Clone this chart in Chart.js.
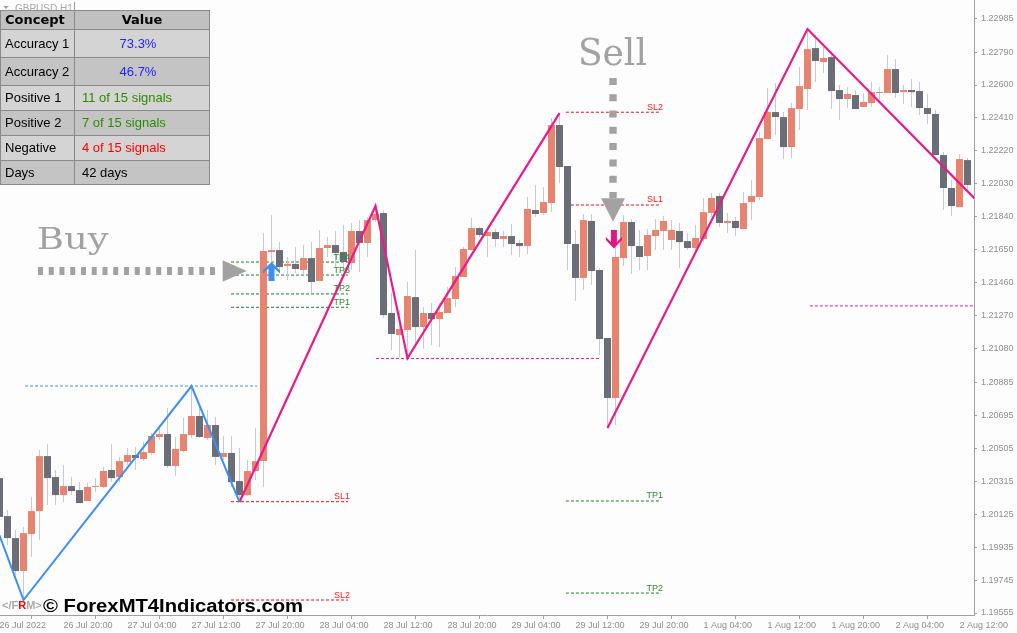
<!DOCTYPE html>
<html><head><meta charset="utf-8">
<script src="https://cdn.jsdelivr.net/npm/chart.js@4.4.0/dist/chart.umd.min.js"></script>
<style>
html,body{margin:0;padding:0;background:#fdfdfe;overflow:hidden}
#wrap{position:relative;width:1017px;height:633px}
#c{display:block}
.cell{position:absolute;box-sizing:border-box;white-space:nowrap;font-family:"Liberation Sans",Arial,sans-serif;font-size:13px;color:#000;padding-left:4px}
</style></head>
<body><div id="wrap"><canvas id="c" width="1017" height="633"></canvas><div id="tbl"></div></div>
<script>
// ---- data (GBPUSD H1), bar index 0 = 26 Jul 12:00 ----
const opens = [1.20333,1.20114,1.19987,1.19797,1.20010,1.20143,1.20460,1.20339,1.20235,1.20287,
1.20264,1.20201,1.20282,1.20282,1.20380,1.20339,1.20426,1.20466,1.20443,1.20478,
1.20570,1.20587,1.20403,1.20489,1.20581,1.20691,1.20564,1.20639,1.20455,1.20478,
1.20316,1.20235,1.20374,1.20431,1.21637,1.21648,1.21556,1.21568,1.21533,1.21602,
1.21470,1.21660,1.21677,1.21637,1.21573,1.21758,1.21689,1.21821,1.21862,1.21285,
1.21158,1.21187,1.21377,1.21204,1.21285,1.21250,1.21285,1.21366,1.21493,1.21648,
1.21775,1.21729,1.21752,1.21712,1.21729,1.21689,1.21671,1.21879,1.21862,1.21919,
1.22369,1.22133,1.21683,1.21487,1.21816,1.21533,1.21141,1.20795,1.21602,1.21810,
1.21671,1.21614,1.21729,1.21758,1.21706,1.21758,1.21700,1.21660,1.21712,1.21862,
1.21960,1.21804,1.21816,1.21769,1.21925,1.21954,1.22288,1.22444,1.22415,1.22242,
1.22461,1.22577,1.22813,1.22732,1.22761,1.22571,1.22519,1.22542,1.22473,1.22496,
1.22554,1.22554,1.22692,1.22559,1.22571,1.22565,1.22467,1.22433,1.22196,1.22006,
1.21896,1.22167];
const highs = [1.20380,1.20149,1.20034,1.20051,1.20224,1.20495,1.20530,1.20380,1.20408,1.20339,
1.20310,1.20305,1.20333,1.20397,1.20530,1.20455,1.20506,1.20512,1.20541,1.20593,
1.20639,1.20737,1.20570,1.20679,1.20864,1.20754,1.20726,1.20685,1.20576,1.20576,
1.20506,1.20437,1.20622,1.21746,1.21850,1.21694,1.21608,1.21666,1.21677,1.21694,
1.21764,1.21723,1.21758,1.21792,1.21804,1.21821,1.21839,1.21902,1.21879,1.21400,
1.21302,1.21464,1.21648,1.21320,1.21343,1.21343,1.21435,1.21550,1.21666,1.21833,
1.21781,1.21781,1.21769,1.21758,1.21798,1.21706,1.21954,1.22023,1.22012,1.22410,
1.22438,1.22133,1.21764,1.21856,1.21856,1.21544,1.21141,1.21666,1.21850,1.21827,
1.21764,1.21769,1.21827,1.21844,1.21821,1.21804,1.21746,1.21792,1.21948,1.21977,
1.21977,1.21862,1.21839,1.21983,1.22052,1.22329,1.22583,1.22611,1.22444,1.22496,
1.22704,1.22923,1.22888,1.22819,1.22784,1.22600,1.22588,1.22571,1.22554,1.22617,
1.22588,1.22773,1.22750,1.22600,1.22634,1.22617,1.22548,1.22456,1.22213,1.22052,
1.22202,1.22179];
const lows = [1.20062,1.19947,1.19774,1.19630,1.19878,1.19976,1.20178,1.20178,1.20195,1.20235,
1.20189,1.20201,1.20253,1.20276,1.20310,1.20310,1.20408,1.20380,1.20431,1.20466,
1.20553,1.20391,1.20345,1.20483,1.20564,1.20564,1.20553,1.20408,1.20437,1.20282,
1.20195,1.20230,1.20322,1.20282,1.21475,1.21521,1.21475,1.21516,1.21504,1.21400,
1.21470,1.21608,1.21550,1.21521,1.21533,1.21521,1.21608,1.21810,1.21256,1.21072,
1.21031,1.21025,1.21112,1.21077,1.21100,1.21089,1.21285,1.21320,1.21493,1.21648,
1.21723,1.21608,1.21666,1.21666,1.21619,1.21608,1.21625,1.21839,1.21850,1.21867,
1.22035,1.21533,1.21354,1.21418,1.21446,1.21043,1.20622,1.20639,1.21556,1.21510,
1.21533,1.21533,1.21648,1.21648,1.21648,1.21544,1.21648,1.21648,1.21694,1.21839,
1.21781,1.21746,1.21729,1.21769,1.21821,1.21937,1.22288,1.22312,1.22173,1.22179,
1.22340,1.22456,1.22617,1.22669,1.22461,1.22398,1.22467,1.22461,1.22473,1.22473,
1.22502,1.22554,1.22525,1.22490,1.22473,1.22427,1.22375,1.22196,1.21879,1.21844,
1.21896,1.21994];
const closes = [1.20109,1.19987,1.19797,1.20016,1.20143,1.20460,1.20333,1.20235,1.20287,1.20258,
1.20189,1.20282,1.20287,1.20374,1.20333,1.20431,1.20466,1.20449,1.20483,1.20576,
1.20587,1.20403,1.20501,1.20587,1.20691,1.20570,1.20639,1.20455,1.20478,1.20310,
1.20235,1.20374,1.20431,1.21643,1.21648,1.21550,1.21568,1.21539,1.21602,1.21464,
1.21660,1.21677,1.21631,1.21579,1.21758,1.21689,1.21821,1.21856,1.21273,1.21164,
1.21193,1.21383,1.21204,1.21285,1.21250,1.21291,1.21371,1.21498,1.21654,1.21775,
1.21735,1.21752,1.21712,1.21729,1.21683,1.21671,1.21885,1.21856,1.21925,1.22369,
1.22127,1.21683,1.21487,1.21821,1.21527,1.21135,1.20795,1.21608,1.21810,1.21671,
1.21608,1.21735,1.21764,1.21816,1.21764,1.21694,1.21660,1.21718,1.21867,1.21948,
1.21804,1.21816,1.21775,1.21919,1.21960,1.22294,1.22444,1.22415,1.22242,1.22467,
1.22594,1.22807,1.22738,1.22756,1.22565,1.22519,1.22548,1.22461,1.22502,1.22559,
1.22559,1.22692,1.22554,1.22571,1.22559,1.22467,1.22433,1.22196,1.22006,1.21902,
1.22173,1.22023];

const xTickIdx = [0,8,16,24,32,40,48,56,64,72,80,88,96,104,112,120];
const xTickLabels = ['26 Jul 2022','26 Jul 20:00','27 Jul 04:00','27 Jul 12:00','27 Jul 20:00','28 Jul 04:00','28 Jul 12:00','28 Jul 20:00','29 Jul 04:00','29 Jul 12:00','29 Jul 20:00','1 Aug 04:00','1 Aug 12:00','1 Aug 20:00','2 Aug 04:00','2 Aug 12:00'];
const yTicks = [1.22985,1.22790,1.22600,1.22410,1.22220,1.22030,1.21840,1.21650,1.21460,1.21270,1.21080,1.20885,1.20695,1.20505,1.20315,1.20125,1.19935,1.19745,1.19555];

// zigzag legs
const zzBlueIdx = [0,3,24,30];
const zzBluePrice = [1.20003,1.19630,1.20864,1.20195];
const zzPinkAIdx = [30,47,51,70];
const zzPinkAPrice = [1.20195,1.21902,1.21025,1.22438];
const zzPinkBIdx = [76,101,124];
const zzPinkBPrice = [1.20622,1.22923,1.21847];

// horizontal levels
const levelLabels = ['','SL1','SL2','TP1','TP2','TP3','TP4','','SL2','SL1','TP1','TP2',''];
const levelKinds  = ['blue','sl','sl','tp','tp','tp','tp','pink','sl','sl','tp','tp','pink'];
const levelPrices = [1.20864,1.20197,1.19630,1.21318,1.21395,1.21504,1.21579,1.21023,1.22443,1.21908,1.20201,1.19670,1.21326];
const levelFrom   = [3.19,28.94,28.94,28.94,28.94,28.94,28.94,47.06,70.8,70.8,70.8,70.8,101.3];
const levelTo     = [32.2,43.56,43.56,43.56,43.56,43.56,43.56,75.06,82.7,82.7,82.7,82.7,122.5];

// signal arrows
const buySignalIdx = 34, buySignalPrice = 1.21579;
const sellSignalIdx = 76.8, sellSignalPrice = 1.21764;

// stats table
const tableConcepts = ['Accuracy 1','Accuracy 2','Positive 1','Positive 2','Negative','Days'];
const tableValues = ['73.3%','46.7%','11 of 15 signals','7 of 15 signals','4 of 15 signals','42 days'];

// ---- styles ----
const C_BULL='#e8836f', C_BEAR='#6b6e77', C_WICK='#c9c9d3';
const kindColor = {blue:'#3d8ff0', pink:'#ee1690', sl:'#e81010', tp:'#1e7e1e'};

// ---- table ----
(function(){
  const t = document.getElementById('tbl');
  const tops=[10,29,57,85,110,135,160,184];
  const colX=[0,74,210];
  const add=(x,y,w,h,bg,txt,st)=>{const d=document.createElement('div');d.className='cell';
    d.style.cssText+=`left:${x}px;top:${y}px;width:${w}px;height:${h}px;line-height:${h}px;background:${bg};`+(st||'');
    d.textContent=txt;t.appendChild(d);};
  add(0,10,210,175,'#8a8a8a','', '');
  add(74,2,1,8,'#9a9a9a','','padding:0');
  const valColors=['#2323ff','#2323ff','#2e8a00','#2e8a00','#ff0000','#000000'];
  for(let r=0;r<7;r++){
    const y=tops[r], h=tops[r+1]-tops[r];
    const bg = r===0 ? '#c0c0c0' : (r%2===1 ? '#d4d4d4' : '#c4c4c4');
    if(r===0){
      add(1,y+1,colX[1]-1,h-1,bg,'Concept','font-family:"DejaVu Sans";font-weight:bold;font-size:13px;');
      add(colX[1]+1,y+1,colX[2]-colX[1]-2,h-1,bg,'Value','font-family:"DejaVu Sans";font-weight:bold;font-size:13px;text-align:center;padding-left:0;');
    } else {
      add(1,y+1,colX[1]-1,h-1,bg,tableConcepts[r-1],'');
      const center = r<=2;
      add(colX[1]+1,y+1,colX[2]-colX[1]-2,h-1,bg,tableValues[r-1],
        `color:${valColors[r-1]};`+(center?'text-align:center;padding-left:0;padding-right:8px;':'padding-left:7px;'));
    }
  }
})();

// ---- chart ----
Chart.defaults.font.family = '"Liberation Sans", Arial, sans-serif';
const idx = opens.map((_,i)=>i);
const pts = (xs,ys)=>xs.map((v,i)=>({x:v,y:ys[i]}));

const datasets = [];
levelPrices.forEach((p,i)=>{
  datasets.push({type:'line', data:[{x:levelFrom[i],y:p},{x:levelTo[i],y:p}], borderColor:kindColor[levelKinds[i]],
    borderWidth:1, borderDash:[3,2], pointRadius:0, fill:false, order:10});
});
datasets.push({type:'bar', data: idx.map(i=>({x:i,y:[lows[i],highs[i]]})), backgroundColor:C_WICK,
  barThickness:1, grouped:false, borderWidth:0, inflateAmount:0, order:6});
datasets.push({type:'bar', data: idx.map(i=>({x:i,y:[opens[i],closes[i]]})),
  backgroundColor: idx.map(i=> closes[i]>=opens[i] ? C_BULL : C_BEAR),
  barThickness:7, grouped:false, borderWidth:0, inflateAmount:0, minBarLength:1, order:5});
datasets.push({type:'line', data:pts(zzBlueIdx,zzBluePrice), borderColor:'#3d8ff0', borderWidth:2, pointRadius:0, tension:0, order:1});
datasets.push({type:'line', data:pts(zzPinkAIdx,zzPinkAPrice), borderColor:'#ea1a8a', borderWidth:2.2, pointRadius:0, tension:0, order:1});
datasets.push({type:'line', data:pts(zzPinkBIdx,zzPinkBPrice), borderColor:'#ea1a8a', borderWidth:2.2, pointRadius:0, tension:0, order:1});

const overlay = {
  id:'overlay',
  afterDatasetsDraw(chart){
    const ctx=chart.ctx, xs=chart.scales.x, ys=chart.scales.y;
    const X=v=>xs.getPixelForValue(v), Y=v=>ys.getPixelForValue(v);
    ctx.save();
    // level labels
    ctx.font='9px "Liberation Sans"'; ctx.textAlign='right'; ctx.textBaseline='alphabetic';
    levelLabels.forEach((t,i)=>{ if(!t) return;
      ctx.fillStyle = levelKinds[i]==='sl' ? '#ff1a1a' : '#2b8a2b';
      ctx.fillText(t, X(levelTo[i])+2, Y(levelPrices[i])-2.5);
    });
    // buy signal arrow (blue, up)
    let cx=X(buySignalIdx), top=Y(buySignalPrice);
    ctx.fillStyle='#3d8ff0'; ctx.beginPath();
    ctx.moveTo(cx,top); ctx.lineTo(cx+8.5,top+8.5); ctx.lineTo(cx+8.5,top+11.5); ctx.lineTo(cx+3,top+6.5);
    ctx.lineTo(cx+3,top+19); ctx.lineTo(cx-3,top+19); ctx.lineTo(cx-3,top+6.5); ctx.lineTo(cx-8.5,top+11.5); ctx.lineTo(cx-8.5,top+8.5);
    ctx.closePath(); ctx.fill();
    // sell signal arrow (pink, down)
    cx=X(sellSignalIdx); top=Y(sellSignalPrice); const bot=top+18.5;
    ctx.fillStyle='#e8157f'; ctx.beginPath();
    ctx.moveTo(cx,bot); ctx.lineTo(cx+8,bot-8.5); ctx.lineTo(cx+8,bot-11.5); ctx.lineTo(cx+3,bot-6.5);
    ctx.lineTo(cx+3,top); ctx.lineTo(cx-3,top); ctx.lineTo(cx-3,bot-6.5); ctx.lineTo(cx-8,bot-11.5); ctx.lineTo(cx-8,bot-8.5);
    ctx.closePath(); ctx.fill();

    // "Buy" annotation with dotted arrow
    ctx.fillStyle='#a2a2a2'; ctx.strokeStyle='#a2a2a2';
    const drawStretched=(txt,font,x,y,w)=>{ctx.save();ctx.font=font;ctx.textAlign='left';ctx.textBaseline='alphabetic';
      const m=ctx.measureText(txt).width; ctx.translate(x,y); ctx.scale(w/m,1); ctx.fillText(txt,0,0); ctx.restore();};
    drawStretched('Buy','30px "DejaVu Serif"', X(4.65), Y(1.21653), 72);
    const ay=Y(1.21527);
    ctx.lineWidth=8; ctx.setLineDash([5,5.75]); ctx.beginPath(); ctx.moveTo(X(4.81),ay); ctx.lineTo(X(27.19),ay); ctx.stroke();
    ctx.setLineDash([]);
    let bx=X(27.9), tx=X(30.9);
    ctx.beginPath(); ctx.moveTo(bx,ay-10.8); ctx.lineTo(tx,ay); ctx.lineTo(bx,ay+10.8); ctx.closePath(); ctx.fill();
    // "Sell" annotation with dotted arrow
    drawStretched('Sell','38px "DejaVu Serif"', X(72.3), Y(1.22715), 69);
    const sx=X(76.69), sy0=Y(1.22641), sy1=Y(1.21947), sTip=Y(1.21812);
    ctx.lineWidth=7.4; ctx.setLineDash([7,9.3]); ctx.beginPath(); ctx.moveTo(sx,sy0); ctx.lineTo(sx,sy1); ctx.stroke();
    ctx.setLineDash([]);
    ctx.beginPath(); ctx.moveTo(sx-12,sy1); ctx.lineTo(sx+12,sy1); ctx.lineTo(sx,sTip); ctx.closePath(); ctx.fill();
    ctx.restore();
  },
  afterDraw(chart){
    const ctx=chart.ctx, a=chart.chartArea;
    ctx.save();
    // symbol caption
    ctx.fillStyle='#a8a8a8'; ctx.font='10px "Liberation Sans"'; ctx.textBaseline='alphabetic'; ctx.textAlign='left';
    ctx.fillText('GBPUSD,H1', a.left+15, 12);
    ctx.beginPath(); ctx.moveTo(a.left+3,6); ctx.lineTo(a.left+9,6); ctx.lineTo(a.left+6,9); ctx.closePath(); ctx.fill();
    // watermark
    let x=a.left+2; const yb=a.bottom-6;
    ctx.font='bold 11px "Liberation Sans"';
    const parts=[['</F','#ababab'],['R','#ff0000'],['M>','#ababab']];
    parts.forEach(([t,c])=>{ctx.fillStyle=c; ctx.fillText(t,x,yb); x+=ctx.measureText(t).width;});
    ctx.fillStyle='#000'; ctx.font='bold 18px "Liberation Sans"';
    const wm='\u00A9 ForexMT4Indicators.com', wmW=ctx.measureText(wm).width;
    ctx.translate(a.left+43, a.bottom-3); ctx.scale(260/wmW,1); ctx.fillText(wm,0,0);
    ctx.restore();
  }
};

new Chart(document.getElementById('c'), {
  type:'bar',
  data:{datasets},
  options:{
    responsive:false, animation:false, devicePixelRatio:1, events:[],
    layout:{padding:0},
    plugins:{legend:{display:false}, tooltip:{enabled:false}},
    scales:{
      x:{type:'linear', position:'bottom', min:0.0625, max:121.8125, bounds:'data', offset:false,
        grid:{drawOnChartArea:false, drawTicks:true, tickLength:4, color:'#a0a0a0'},
        border:{display:true, color:'#a0a0a0'},
        ticks:{autoSkip:false, maxRotation:0, minRotation:0, align:'start', padding:1, color:'#8f8f8f',
          font:{size:9}, callback:(v,i)=>xTickLabels[i]},
        afterBuildTicks:s=>{s.ticks=xTickIdx.map(v=>({value:v}));},
        afterFit:s=>{s.height=18; s.paddingLeft=0; s.paddingRight=0;}
      },
      y:{type:'linear', position:'right', min:1.195435, max:1.230902, bounds:'data',
        grid:{drawOnChartArea:false, drawTicks:true, tickLength:3, color:'#a0a0a0'},
        border:{display:true, color:'#a0a0a0'},
        ticks:{autoSkip:false, padding:4, color:'#8f8f8f', font:{size:9}, callback:v=>Number(v).toFixed(5)},
        afterBuildTicks:s=>{s.ticks=yTicks.map(v=>({value:v}));},
        afterFit:s=>{s.width=43; s.paddingTop=0; s.paddingBottom=0;}
      }
    }
  },
  plugins:[overlay]
});
</script>
</body></html>
